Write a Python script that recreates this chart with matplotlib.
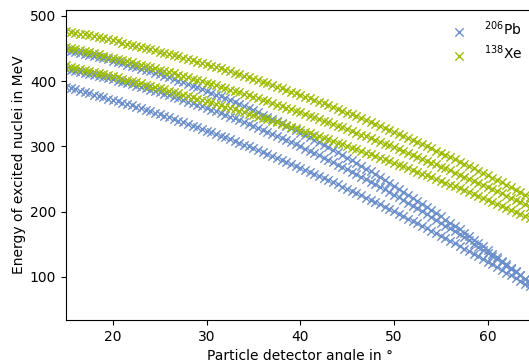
import matplotlib
matplotlib.use("Agg")
import matplotlib.pyplot as plt
import numpy as np

# detector angles in degrees (0.5 deg steps)
angles = np.arange(15, 65.25, 0.5)

# 206Pb, three branches (MeV)
pb_1 = [448.0, 446.5, 445.0, 443.5, 441.9, 440.2, 438.5, 436.8, 435.0, 433.2, 431.3, 429.4, 427.5, 425.5, 423.4, 421.3, 419.2, 417.1, 414.9, 412.6,
        410.3, 408.0, 405.6, 403.2, 400.7, 398.2, 395.6, 393.0, 390.3, 387.6, 384.9, 382.1, 379.3, 376.5, 373.6, 370.6, 367.6, 364.6, 361.5, 358.4,
        355.2, 352.0, 348.7, 345.4, 342.1, 338.7, 335.3, 331.8, 328.3, 324.7, 321.1, 317.5, 313.8, 310.1, 306.3, 302.5, 298.6, 294.7, 290.7, 286.7,
        282.7, 278.6, 274.5, 270.3, 266.1, 261.9, 257.6, 253.2, 248.8, 244.4, 239.9, 235.4, 230.8, 226.2, 221.6, 216.9, 212.2, 207.4, 202.6, 197.7,
        192.8, 187.9, 182.9, 177.8, 172.7, 167.6, 162.4, 157.2, 152.0, 146.7, 141.3, 135.9, 130.5, 125.0, 119.5, 114.0, 108.4, 102.7, 97.0, 91.3, 85.5]
pb_2 = [419.0, 417.5, 416.0, 414.5, 412.9, 411.3, 409.7, 408.0, 406.3, 404.5, 402.7, 400.9, 399.0, 397.1, 395.2, 393.2, 391.1, 389.1, 387.0, 384.9,
        382.7, 380.5, 378.2, 375.9, 373.6, 371.2, 368.8, 366.4, 363.9, 361.4, 358.9, 356.3, 353.6, 351.0, 348.3, 345.6, 342.8, 340.0, 337.1, 334.2,
        331.3, 328.3, 325.3, 322.3, 319.2, 316.1, 312.9, 309.7, 306.5, 303.2, 299.9, 296.6, 293.2, 289.8, 286.3, 282.8, 279.3, 275.8, 272.2, 268.5,
        264.8, 261.1, 257.4, 253.6, 249.7, 245.9, 242.0, 238.0, 234.0, 230.0, 226.0, 221.9, 217.7, 213.6, 209.4, 205.1, 200.8, 196.5, 192.1, 187.7,
        183.3, 178.8, 174.3, 169.8, 165.2, 160.6, 155.9, 151.2, 146.5, 141.8, 137.0, 132.1, 127.2, 122.3, 117.3, 112.3, 107.3, 102.2, 97.1, 92.0, 86.8]
pb_3 = [391.0, 389.2, 387.3, 385.4, 383.4, 381.5, 379.5, 377.5, 375.4, 373.4, 371.3, 369.2, 367.0, 364.9, 362.7, 360.5, 358.2, 356.0, 353.7, 351.4,
        349.0, 346.7, 344.3, 341.9, 339.4, 337.0, 334.5, 332.0, 329.4, 326.9, 324.3, 321.7, 319.0, 316.4, 313.7, 311.0, 308.2, 305.5, 302.7, 299.9,
        297.0, 294.2, 291.3, 288.4, 285.4, 282.5, 279.5, 276.5, 273.4, 270.4, 267.3, 264.2, 261.0, 257.9, 254.7, 251.5, 248.2, 245.0, 241.7, 238.4,
        235.0, 231.7, 228.3, 224.9, 221.4, 218.0, 214.5, 211.0, 207.4, 203.9, 200.3, 196.7, 193.0, 189.4, 185.7, 182.0, 178.2, 174.5, 170.7, 166.9,
        163.0, 159.2, 155.3, 151.4, 147.4, 143.5, 139.5, 135.5, 131.4, 127.4, 123.3, 119.2, 115.0, 110.9, 106.7, 102.5, 98.2, 94.0, 89.7, 85.4, 81.0]

# 138Xe, three branches (MeV)
xe_1 = [477.0, 475.7, 474.3, 472.9, 471.5, 470.0, 468.5, 467.0, 465.5, 464.0, 462.4, 460.8, 459.2, 457.6, 455.9, 454.2, 452.4, 450.7, 448.9, 447.1,
        445.3, 443.5, 441.6, 439.7, 437.8, 435.8, 433.8, 431.8, 429.8, 427.8, 425.7, 423.6, 421.5, 419.4, 417.2, 415.0, 412.7, 410.5, 408.2, 405.9,
        403.6, 401.3, 398.9, 396.5, 394.1, 391.6, 389.1, 386.6, 384.1, 381.6, 379.0, 376.4, 373.8, 371.2, 368.5, 365.8, 363.0, 360.3, 357.5, 354.7,
        351.9, 349.1, 346.2, 343.3, 340.4, 337.4, 334.4, 331.4, 328.4, 325.4, 322.3, 319.2, 316.1, 313.0, 309.8, 306.6, 303.3, 300.1, 296.8, 293.5,
        290.2, 286.9, 283.5, 280.1, 276.7, 273.2, 269.7, 266.2, 262.7, 259.2, 255.6, 252.0, 248.4, 244.8, 241.1, 237.4, 233.6, 229.9, 226.1, 222.3, 218.5]
xe_2 = [452.0, 450.5, 448.9, 447.3, 445.7, 444.1, 442.5, 440.9, 439.2, 437.5, 435.8, 434.1, 432.3, 430.6, 428.8, 427.0, 425.2, 423.4, 421.5, 419.6,
        417.7, 415.8, 413.9, 411.9, 409.9, 407.9, 405.9, 403.9, 401.9, 399.8, 397.7, 395.6, 393.5, 391.4, 389.2, 387.0, 384.8, 382.6, 380.3, 378.1,
        375.8, 373.5, 371.2, 368.9, 366.5, 364.1, 361.7, 359.3, 356.9, 354.5, 352.0, 349.5, 347.0, 344.5, 341.9, 339.4, 336.8, 334.2, 331.6, 329.0,
        326.3, 323.6, 320.9, 318.2, 315.5, 312.8, 310.0, 307.2, 304.4, 301.6, 298.7, 295.9, 293.0, 290.1, 287.1, 284.2, 281.2, 278.3, 275.3, 272.3,
        269.2, 266.2, 263.1, 260.0, 256.9, 253.8, 250.6, 247.4, 244.2, 241.0, 237.8, 234.6, 231.3, 228.0, 224.7, 221.4, 218.0, 214.7, 211.3, 207.9, 204.5]
xe_3 = [424.0, 422.4, 420.8, 419.2, 417.5, 415.9, 414.2, 412.5, 410.8, 409.1, 407.3, 405.6, 403.8, 402.0, 400.2, 398.4, 396.6, 394.8, 392.9, 391.0,
        389.1, 387.2, 385.3, 383.4, 381.4, 379.4, 377.4, 375.4, 373.4, 371.4, 369.3, 367.3, 365.2, 363.1, 361.0, 358.9, 356.7, 354.6, 352.4, 350.2,
        348.0, 345.8, 343.5, 341.3, 339.0, 336.8, 334.5, 332.2, 329.8, 327.5, 325.1, 322.8, 320.4, 318.0, 315.5, 313.1, 310.7, 308.2, 305.7, 303.2,
        300.7, 298.2, 295.6, 293.1, 290.5, 287.9, 285.3, 282.7, 280.0, 277.4, 274.7, 272.0, 269.3, 266.6, 263.9, 261.2, 258.4, 255.6, 252.8, 250.0,
        247.2, 244.4, 241.5, 238.7, 235.8, 232.9, 229.9, 227.0, 224.1, 221.1, 218.1, 215.1, 212.1, 209.1, 206.1, 203.0, 199.9, 196.8, 193.7, 190.6, 187.5]

pb_color = '#6b8fcb'
xe_color = '#9dbd00'

fig = plt.figure(figsize=(5.29, 3.6), dpi=100)
# axes run past the right edge like in the original crop
ax = fig.add_axes([0.1248, 0.1111, 0.8856, 0.8611])

for i, ys in enumerate([pb_1, pb_2, pb_3]):
    ax.scatter(angles[:len(ys)], ys, marker='x', color=pb_color, s=36, linewidths=1.0,
               label=r'$^{206}$Pb' if i == 0 else None)
for i, ys in enumerate([xe_1, xe_2, xe_3]):
    ax.scatter(angles[:len(ys)], ys, marker='x', color=xe_color, s=36, linewidths=1.0,
               label=r'$^{138}$Xe' if i == 0 else None)

ax.set_xlim(15, 65)
ax.set_ylim(34, 509)
ax.set_xlabel('Particle detector angle in °')
ax.set_ylabel('Energy of excited nuclei in MeV', labelpad=2.5)
ax.legend(loc='upper right', bbox_to_anchor=(1.0, 1.009), frameon=False, labelspacing=0.4)

fig.savefig('out.png', dpi=100)
